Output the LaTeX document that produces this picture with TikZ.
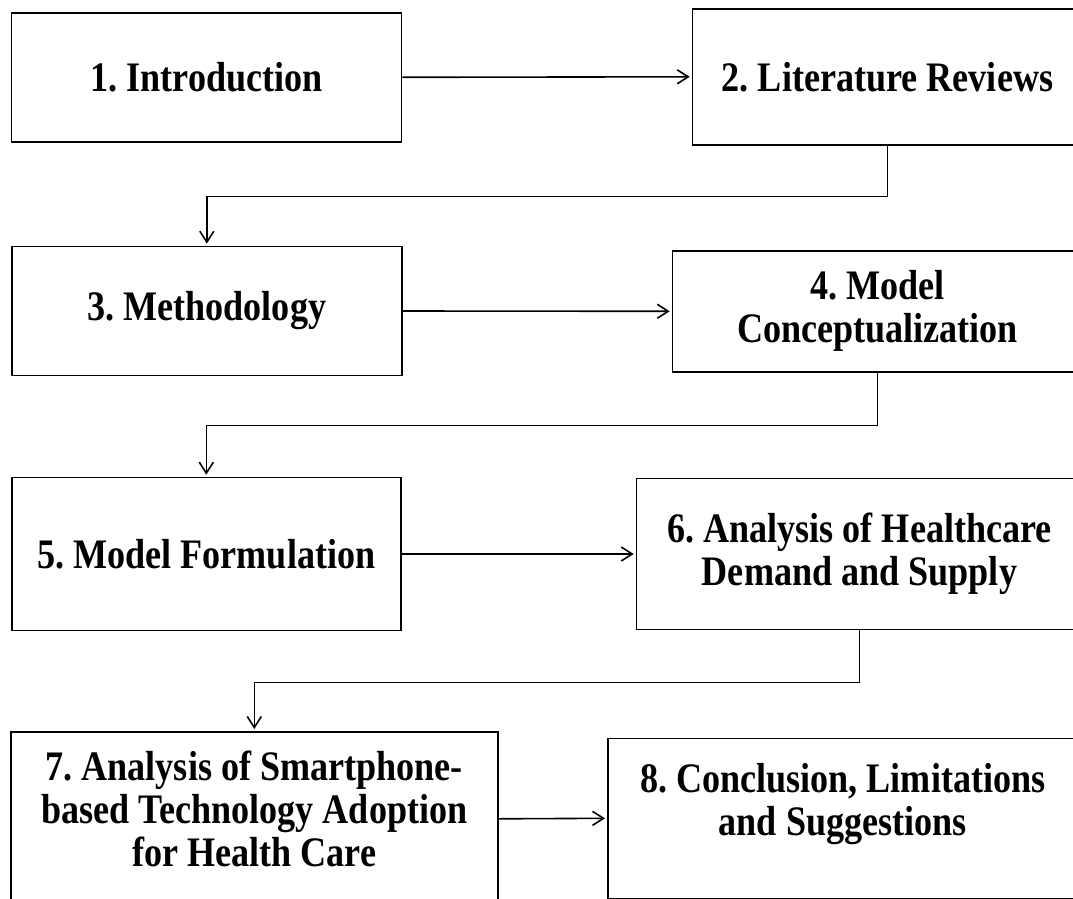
\documentclass[tikz,border=0pt]{standalone}
\usepackage{fontspec}
\setmainfont{Liberation Serif}[FakeStretch=0.86]
\usetikzlibrary{arrows.meta}

\tikzset{
  stage/.style={draw=black, line width=1.6pt, rectangle, anchor=north west,
    inner sep=0pt, align=center,
    font=\frenchspacing\bfseries\fontsize{42}{43}\selectfont},
  flow/.style={line width=1.6pt, -{Straight Barb[length=11pt,width=14pt]}, shorten >=2pt}
}

\begin{document}
\begin{tikzpicture}[x=1pt,y=-1pt]
  \path[use as bounding box, clip] (0,0) rectangle (1073,899);

  % stage boxes (x, y of upper left corner; size in pt)
  \node[stage, minimum width=390pt, minimum height=129pt] (b1) at (10.7,12)
    {1. Introduction};
  \node[stage, minimum width=390pt, minimum height=136pt] (b2) at (691.7,8)
    {2. Literature Reviews};
  \node[stage, minimum width=390pt, minimum height=129pt] (b3) at (11,245.7)
    {3. Methodology};
  \node[stage, minimum width=410pt, minimum height=121pt] (b4) at (671.7,250)
    {4. Model\\Conceptualization};
  \node[stage, minimum width=389pt, minimum height=153pt] (b5) at (11,476.7)
    {5. Model Formulation};
  \node[stage, minimum width=446pt, minimum height=151pt] (b6) at (635.7,477.7)
    {6. Analysis of Healthcare\\Demand and Supply};
  % the last row sits low, its text is raised by a deeper text box
  \node[stage, minimum width=487pt, minimum height=174pt, text depth=20pt] (b7) at (10,731)
    {7. Analysis of Smartphone-\\based Technology Adoption\\for Health Care};
  \node[stage, minimum width=470pt, minimum height=160pt, text depth=37pt] (b8) at (607,737.5)
    {8. Conclusion, Limitations\\and Suggestions};

  % horizontal links
  \draw[flow] (b1.east) -- (b2.west);
  \draw[flow] (b3.east) -- (b4.west);
  \draw[flow] (b5.east) -- (b6.west);
  \draw[flow] (b7.east) -- (b8.west);

  % links down to the next row
  \draw[flow] (b2.south) -- ++(0,51) -| (b3.north);
  \draw[flow] (b4.south) -- ++(0,53) -| (b5.north);
  \draw[flow] (b6.south) -- ++(0,52) -| (b7.north);
\end{tikzpicture}
\end{document}
